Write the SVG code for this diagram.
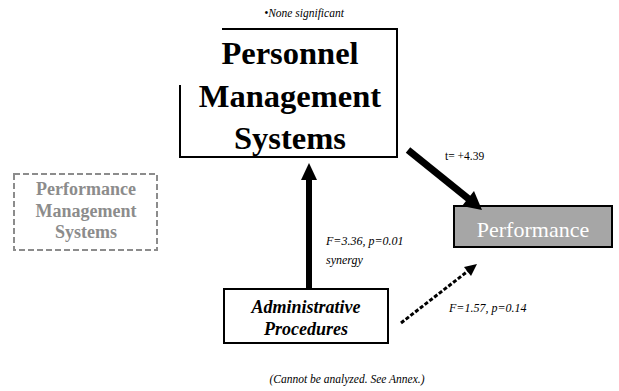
<svg xmlns="http://www.w3.org/2000/svg" width="619" height="391" viewBox="0 0 619 391" font-family="Liberation Serif">
<rect width="619" height="391" fill="#fff"/>
<text font-family="Liberation Serif" font-size="11.5" font-style="italic" x="304" y="17" text-anchor="middle">&#8226;None significant</text>
<g id="personnel" font-family="Liberation Serif" font-size="32.5" font-weight="bold" text-anchor="middle">
<path d="M222,29 H397 V157 H180 V85" fill="none" stroke="#000" stroke-width="2"/>
<text x="290" y="64">Personnel</text>
<text x="290" y="107">Management</text>
<text x="290" y="149">Systems</text>
</g>
<g id="pms" font-family="Liberation Serif" font-size="18" font-weight="bold" text-anchor="middle" fill="#8c8c8c">
<rect x="14" y="174" width="143" height="76" fill="none" stroke="#8c8c8c" stroke-width="2" stroke-dasharray="6,3"/>
<text x="86" y="195">Performance</text>
<text x="86" y="217">Management</text>
<text x="86" y="238">Systems</text>
</g>
<g id="performance">
<rect x="454" y="206" width="158" height="41" fill="#a6a6a6" stroke="#000" stroke-width="2"/>
<text font-family="Liberation Serif" font-size="22" fill="#fff" text-anchor="middle" x="533" y="237">Performance</text>
</g>
<g id="admin" font-family="Liberation Serif" font-size="18" font-weight="bold" font-style="italic" text-anchor="middle">
<rect x="224" y="289" width="164" height="54" fill="#fff" stroke="#000" stroke-width="2"/>
<text x="306" y="313">Administrative</text>
<text x="306" y="335">Procedures</text>
</g>
<g id="connectors">
<line x1="408" y1="150" x2="470" y2="200" stroke="#000" stroke-width="7"/>
<polygon points="482,210 462,206 474,191" fill="#000"/>
<line x1="309" y1="288" x2="309" y2="178" stroke="#000" stroke-width="6"/>
<polygon points="309,163 301,180 317,180" fill="#000"/>
<line x1="401" y1="323" x2="468" y2="271" stroke="#000" stroke-width="3" stroke-dasharray="4,2"/>
<polygon points="477,264 471,276 464,267" fill="#000"/>
</g>
<text font-family="Liberation Serif" font-size="11.5" x="445" y="160">t= +4.39</text>
<text font-family="Liberation Serif" font-size="12" font-style="italic" x="326" y="245">F=3.36, p=0.01</text>
<text font-family="Liberation Serif" font-size="12" font-style="italic" x="326" y="264">synergy</text>
<text font-family="Liberation Serif" font-size="12" font-style="italic" x="449" y="312">F=1.57, p=0.14</text>
<text font-family="Liberation Serif" font-size="11.5" font-style="italic" x="347" y="383" text-anchor="middle">(Cannot be analyzed. See Annex.)</text>
</svg>
